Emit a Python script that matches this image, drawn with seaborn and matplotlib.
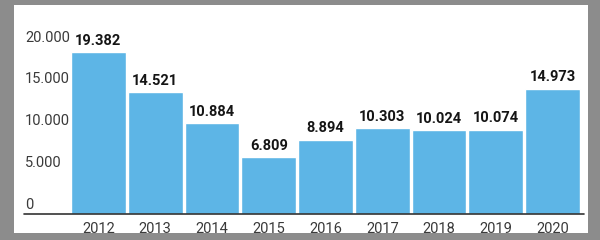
import matplotlib
matplotlib.use("Agg")
import matplotlib.pyplot as plt
import matplotlib.transforms as mtransforms
from matplotlib.patches import Rectangle
from matplotlib.lines import Line2D
import pandas as pd
import seaborn as sns

years = ["2012", "2013", "2014", "2015", "2016", "2017", "2018", "2019", "2020"]
values = [19382, 14521, 10884, 6809, 8894, 10303, 10024, 10074, 14973]
y_ticks = [0, 5000, 10000, 15000, 20000]

df = pd.DataFrame({"year": years, "value": values})

def fmt(v):
    return f"{v:,}".replace(",", ".")

sns.set_style("white")
plt.rcParams["font.family"] = ["Roboto", "DejaVu Sans"]

W, H = 600, 240
fig = plt.figure(figsize=(6, 2.4), dpi=100, facecolor="#8c8c8c")
fig.add_artist(Rectangle((14 / W, 1 - 233 / H), (588 - 14) / W, (233 - 5) / H,
                         transform=fig.transFigure, facecolor="white", edgecolor="none", zorder=0))

ax = fig.add_axes([70 / W, 1 - 214 / H, (581 - 70) / W, (214 - 46.5) / H])
ax.set_facecolor("none")

sns.barplot(data=df, x="year", y="value", color="#5db5e6", saturation=1, width=0.965, ax=ax)

ax.set_ylim(0, 20000)
ax.set_xlim(-0.5, len(years) - 0.5)
for s in ax.spines.values():
    s.set_visible(False)
ax.set_yticks([])
ax.set_xlabel("")
ax.set_ylabel("")
ax.tick_params(axis="x", length=0, pad=6, labelsize=10.5, labelcolor="#3a3a3a")

# value labels above bars
for c in ax.containers:
    ax.bar_label(c, labels=[fmt(v) for v in values], padding=3, fontsize=10.5,
                 fontweight="bold", color="#151515")

# y labels sit above their level, left aligned
trans = mtransforms.blended_transform_factory(fig.transFigure, ax.transData)
trans = mtransforms.offset_copy(trans, fig=fig, x=0, y=9, units="dots")
for t in y_ticks:
    ax.text(25 / W, t, fmt(t), transform=trans, ha="left", va="center",
            fontsize=10.5, color="#3a3a3a")

# baseline
fig.add_artist(Line2D([24 / W, 584 / W], [1 - 214 / H, 1 - 214 / H],
                      transform=fig.transFigure, color="#333333", linewidth=1.2))

fig.savefig("out.png", dpi=100, facecolor=fig.get_facecolor())
